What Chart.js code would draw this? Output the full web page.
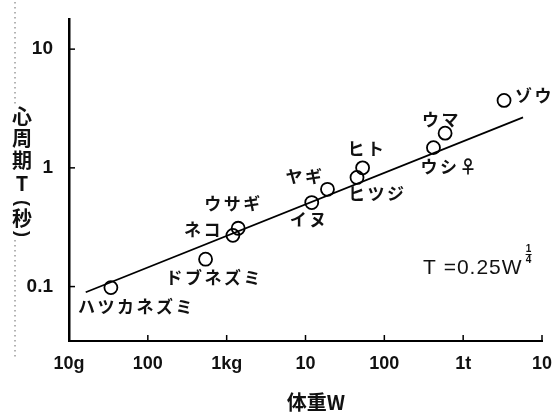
<!DOCTYPE html>
<html>
<head>
<meta charset="utf-8">
<script src="https://cdn.jsdelivr.net/npm/chart.js@4.4.1/dist/chart.umd.min.js"></script>
<style>
html, body { margin: 0; padding: 0; background: #fff; }
</style>
</head>
<body>
<canvas id="chart" width="557" height="416"></canvas>
<script>
const animals = ['ハツカネズミ', 'ドブネズミ', 'ネコ', 'ウサギ', 'イヌ', 'ヤギ', 'ヒツジ', 'ヒト', 'ウシ♀', 'ウマ', 'ゾウ']
const weightsKg = [0.034, 0.54, 1.2, 1.4, 12, 19, 45, 53, 420, 590, 3300]
const periodsSec = [0.098, 0.17, 0.27, 0.31, 0.51, 0.66, 0.83, 1.0, 1.48, 1.96, 3.7]

// fitted line T = 0.25 W^(1/4), end points as drawn
const fitWeightsKg = [0.0163, 5750]
const fitPeriodsSec = [0.0896, 2.66]

const xTickValues = [0.01, 0.1, 1, 10, 100, 1000, 10000]
const xTickLabels = ['10g', '100', '1kg', '10', '100', '1t', '10']
const yTickValues = [0.1, 1, 10]
const yTickLabels = ['0.1', '1', '10']

// where each name sits next to its circle: [left edge dx, middle dy] in px
const labelOffsets = [[-33, 19], [-40, 18], [-49, -6], [-34, -25], [-22, 17], [-42, -13],
    [-9, 16], [-15, -19], [-13, 19], [-23, -14], [11, -5]]

const ink = '#111'
const jpFont = '"Noto Sans CJK JP", "Noto Sans", sans-serif'
const latinFont = '"Liberation Sans", Arial, sans-serif'

const decorations = {
    id: 'decorations',
    afterDraw(chart) {
        const ctx = chart.ctx
        const xs = chart.scales.x
        const ys = chart.scales.y
        const area = chart.chartArea
        ctx.save()

        // inward tick marks
        ctx.strokeStyle = '#000'
        ctx.lineWidth = 1.5
        xTickValues.forEach(v => {
            const px = xs.getPixelForValue(v)
            ctx.beginPath()
            ctx.moveTo(px, area.bottom)
            ctx.lineTo(px, area.bottom - 6)
            ctx.stroke()
        })
        yTickValues.forEach(v => {
            const py = ys.getPixelForValue(v)
            ctx.beginPath()
            ctx.moveTo(area.left, py)
            ctx.lineTo(area.left + 6, py)
            ctx.stroke()
        })

        // faint dotted guide left of the axis title
        ctx.strokeStyle = '#666'
        ctx.lineWidth = 1
        ctx.setLineDash([1.5, 3.5])
        ctx.beginPath()
        ctx.moveTo(15, 2); ctx.lineTo(15, 104)
        ctx.moveTo(15, 240); ctx.lineTo(15, 357)
        ctx.stroke()
        ctx.setLineDash([])

        // animal names
        const meta = chart.getDatasetMeta(0)
        ctx.fillStyle = ink
        ctx.font = 'bold 17px ' + jpFont
        ctx.textAlign = 'left'
        ctx.textBaseline = 'middle'
        ctx.letterSpacing = '2.5px'
        meta.data.forEach((pt, i) => {
            ctx.fillText(animals[i], pt.x + labelOffsets[i][0], pt.y + labelOffsets[i][1])
        })
        ctx.letterSpacing = '0px'

        // vertical y title, upright characters, brackets turned
        ctx.font = 'bold 20px ' + jpFont
        ctx.textAlign = 'center'
        const yTitle = ['心', '周', '期', 'T', '(', '秒', ')']
        const yTitleRows = [116, 138, 160, 183, 203, 218, 234]
        yTitle.forEach((ch, i) => {
            if (ch === '(' || ch === ')') {
                ctx.save()
                ctx.translate(22, yTitleRows[i])
                ctx.rotate(Math.PI / 2)
                ctx.font = 'bold 18px ' + latinFont
                ctx.fillText(ch, 0, 0)
                ctx.restore()
            } else {
                ctx.fillText(ch, 22, yTitleRows[i])
            }
        })

        // x title
        ctx.font = 'bold 20px ' + jpFont
        ctx.fillText('体重W', 316, 402)

        // formula
        ctx.font = '21px ' + latinFont
        ctx.textAlign = 'left'
        ctx.letterSpacing = '1px'
        const fx = area.right - 119
        ctx.fillText('T =0.25W', fx, 268)
        const fw = ctx.measureText('T =0.25W').width
        ctx.letterSpacing = '0px'
        const fracX = fx + fw + 6
        ctx.font = 'bold 10px ' + latinFont
        ctx.textAlign = 'center'
        ctx.fillText('1', fracX, 249)
        ctx.fillText('4', fracX, 260)
        ctx.lineWidth = 1
        ctx.strokeStyle = ink
        ctx.beginPath()
        ctx.moveTo(fracX - 3, 254.5)
        ctx.lineTo(fracX + 3, 254.5)
        ctx.stroke()

        ctx.restore()
    }
}

new Chart(document.getElementById('chart'), {
    type: 'scatter',
    data: {
        datasets: [{
            data: weightsKg.map((w, i) => ({ x: w, y: periodsSec[i] })),
            pointStyle: 'circle',
            pointRadius: 6.5,
            pointBorderWidth: 1.8,
            borderColor: '#000',
            backgroundColor: 'rgba(0,0,0,0)'
        }, {
            type: 'line',
            data: fitWeightsKg.map((w, i) => ({ x: w, y: fitPeriodsSec[i] })),
            borderColor: '#000',
            borderWidth: 1.8,
            pointRadius: 0,
            fill: false
        }]
    },
    options: {
        responsive: false,
        animation: false,
        devicePixelRatio: 1,
        layout: { padding: { top: 16, right: 15, left: 0, bottom: 0 } },
        plugins: {
            legend: { display: false },
            tooltip: { enabled: false }
        },
        scales: {
            x: {
                type: 'logarithmic',
                min: 0.01,
                max: 10000,
                grid: { display: false },
                border: { display: true, color: '#000', width: 2 },
                afterBuildTicks: s => { s.ticks = xTickValues.map(v => ({ value: v })) },
                afterFit: s => { s.height = 75 },
                ticks: {
                    autoSkip: false,
                    maxRotation: 0,
                    padding: 4,
                    color: ink,
                    font: { family: latinFont, size: 18, weight: 'bold' },
                    callback: (v, i) => xTickLabels[i]
                }
            },
            y: {
                type: 'logarithmic',
                min: 0.0348,
                max: 17.8,
                grid: { display: false },
                border: { display: true, color: '#000', width: 2.5 },
                afterBuildTicks: s => { s.ticks = yTickValues.map(v => ({ value: v })) },
                afterFit: s => { s.width = 69 },
                ticks: {
                    autoSkip: false,
                    padding: 8,
                    color: ink,
                    font: { family: latinFont, size: 19, weight: 'bold' },
                    callback: (v, i) => yTickLabels[i]
                }
            }
        }
    },
    plugins: [decorations]
})
</script>
</body>
</html>
